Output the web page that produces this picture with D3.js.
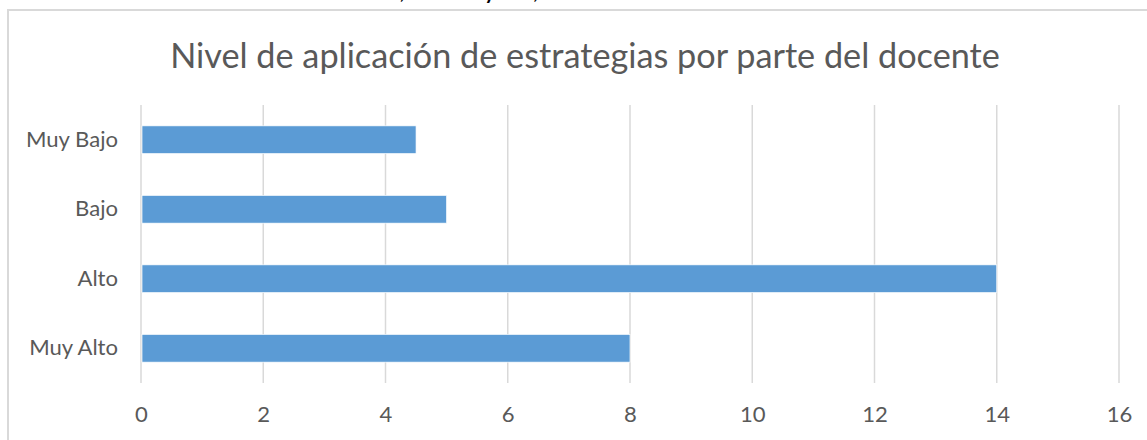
<!DOCTYPE html>
<html>
<head>
<meta charset="utf-8">
<script src="https://cdn.jsdelivr.net/npm/d3@7"></script>
<style>
  html, body { margin: 0; padding: 0; background: #fff; }
  svg { display: block; }
  text { font-family: Lato, "Open Sans", sans-serif; }
</style>
</head>
<body>
<svg id="chart" width="1147" height="440"></svg>
<script>
// data
let categories = ["Muy Bajo", "Bajo", "Alto", "Muy Alto"];
let values = [4.5, 5, 14, 8];
let xTicks = [0, 2, 4, 6, 8, 10, 12, 14, 16];
let title = "Nivel de aplicación de estrategias por parte del docente";
let clippedCaption = "docente, nivel muy alto,";

let svg = d3.select("#chart");
let opt = {
    left: 141, right: 1119,
    top: 105, bottom: 383,
    grid: "#d9d9d9",
    bar: "#5b9bd5",
    text: "#595959"
};

// bit of caption text from the page above, cut by the top edge
svg.append("text")
    .attr("x", 538).attr("y", -1.5)
    .attr("text-anchor", "end")
    .style("font-size", "20px")
    .style("font-weight", "bold")
    .style("fill", "#000")
    .text(clippedCaption);

// chart frame (only left and top visible)
svg.append("path")
    .attr("d", "M8,441V10H1148")
    .style("fill", "none")
    .style("stroke", opt.grid)
    .style("stroke-width", 2);

let x = d3.scaleLinear().domain([0, 16]).range([opt.left, opt.right]);
let y = d3.scaleBand().domain(categories)
    .range([opt.top, opt.bottom])
    .paddingInner(0.6).paddingOuter(0.3);

// gridlines
let g = svg.append("g");
g.selectAll("line.grid")
    .data(xTicks)
    .enter().append("line")
    .attr("class", "grid")
    .attr("x1", d => x(d)).attr("x2", d => x(d))
    .attr("y1", opt.top).attr("y2", opt.bottom)
    .style("stroke", opt.grid)
    .style("stroke-width", 1.5);

// bars
g.selectAll("rect.bar")
    .data(values)
    .enter().append("rect")
    .attr("class", "bar")
    .attr("x", x(0) + 1)
    .attr("y", (d, i) => y(categories[i]))
    .attr("width", d => x(d) - x(0) - 1)
    .attr("height", y.bandwidth())
    .style("fill", opt.bar)
    .style("stroke", "#fff")
    .style("stroke-width", 0.7);

// axes
let axisX = svg.append("g")
    .attr("transform", "translate(0," + opt.bottom + ")")
    .call(d3.axisBottom(x).tickValues(xTicks).tickSize(0).tickPadding(23));
axisX.select(".domain").remove();
axisX.selectAll("text")
    .style("font-size", "18px")
    .style("fill", opt.text)
    .style("font-family", "Lato, 'Open Sans', sans-serif");

let axisY = svg.append("g")
    .attr("transform", "translate(" + opt.left + ",0)")
    .call(d3.axisLeft(y).tickSize(0).tickPadding(23));
axisY.select(".domain").remove();
axisY.selectAll("text")
    .style("font-size", "18px")
    .style("fill", opt.text)
    .style("font-family", "Lato, 'Open Sans', sans-serif");

// title
let t = svg.append("text")
    .attr("x", 585).attr("y", 68)
    .attr("text-anchor", "middle")
    .style("font-size", "32px")
    .style("fill", opt.text)
    .text(title);

// match title and label widths to the picture
let tw = t.node().getComputedTextLength();
t.style("font-size", (32 * 830 / tw) + "px");
let lab = axisY.selectAll("text").filter(d => d === "Muy Bajo").node();
let lw = lab.getComputedTextLength();
let fs = 18 * 92 / lw;
axisY.selectAll("text").style("font-size", fs + "px");
axisX.selectAll("text").style("font-size", fs + "px");
</script>
</body>
</html>
